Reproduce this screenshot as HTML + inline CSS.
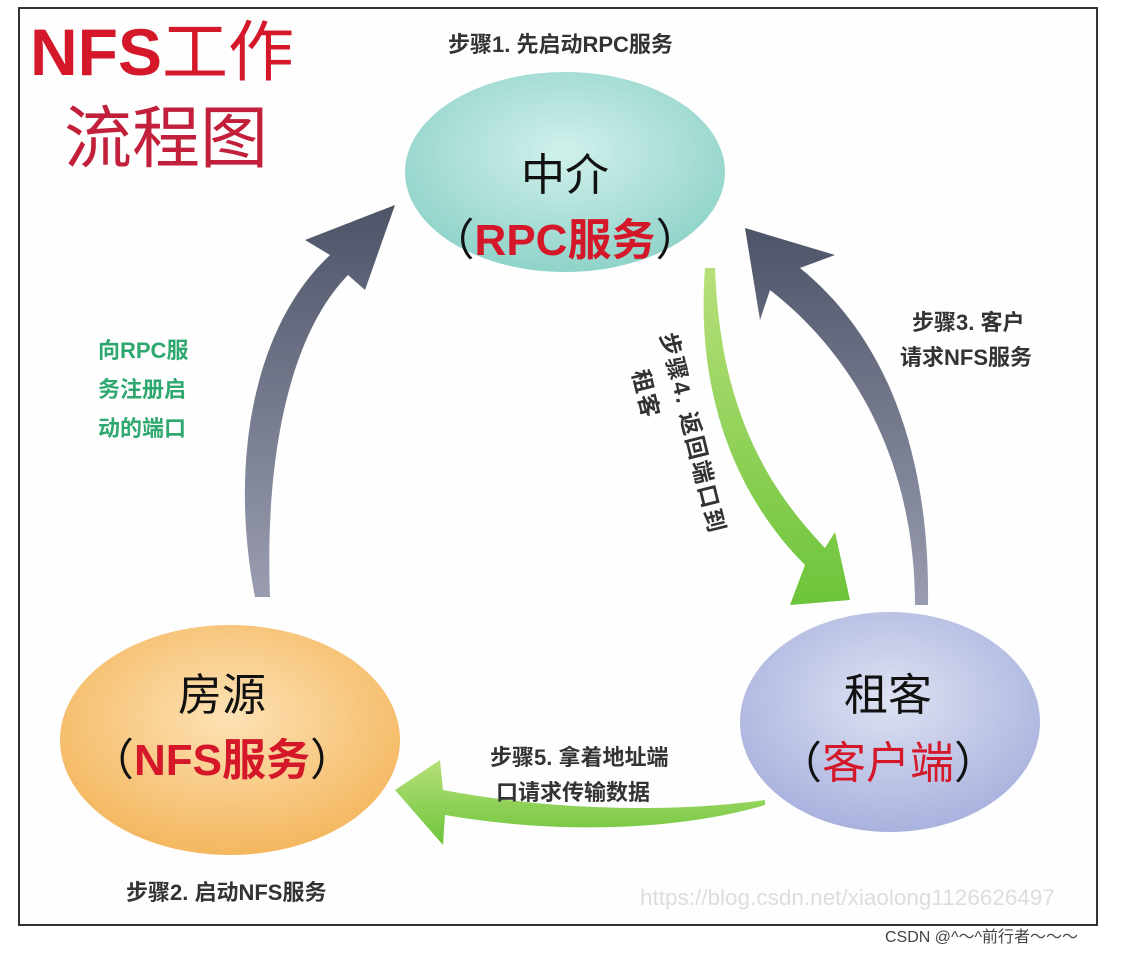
<!DOCTYPE html>
<html><head><meta charset="utf-8"><style>
body{margin:0;background:#fff;width:1132px;height:955px;overflow:hidden;font-family:"Liberation Sans","Noto Sans CJK SC",sans-serif}
svg text{font-family:"Liberation Sans","Noto Sans CJK SC",sans-serif}
</style></head><body>
<svg width="1132" height="955" viewBox="0 0 1132 955" xmlns="http://www.w3.org/2000/svg">
<defs>
<radialGradient id="gt" cx="50%" cy="40%" r="60%"><stop offset="0" stop-color="#d2f0ec"/><stop offset="1" stop-color="#8fd3c9"/></radialGradient>
<radialGradient id="go" cx="50%" cy="40%" r="60%"><stop offset="0" stop-color="#fde2b5"/><stop offset="1" stop-color="#f4b75f"/></radialGradient>
<radialGradient id="gb" cx="50%" cy="40%" r="60%"><stop offset="0" stop-color="#dde2f2"/><stop offset="1" stop-color="#a9b2de"/></radialGradient>
<linearGradient id="gray" x1="0" y1="1" x2="0" y2="0"><stop offset="0" stop-color="#9a9db0"/><stop offset="1" stop-color="#4e5468"/></linearGradient>
<linearGradient id="green" x1="0" y1="0" x2="0" y2="1"><stop offset="0" stop-color="#b8e07a"/><stop offset="1" stop-color="#6cc43a"/></linearGradient>
</defs>
<rect x="19" y="8" width="1078" height="917" fill="#fdfefd" stroke="#333" stroke-width="2"/>
<text x="30" y="75" font-size="66" font-weight="bold" fill="#d4182a">NFS<tspan font-weight="normal">工作</tspan></text>
<text x="64" y="162" font-size="68" fill="#c2203a">流程图</text>
<text x="448" y="52" font-size="22" font-weight="bold" fill="#333">步骤1. 先启动RPC服务</text>
<path d="M255,597 C230,470 250,330 330,255 L305,240 L395,205 L365,290 L348,275 C285,340 265,470 270,597 Z" fill="url(#gray)"/>
<path d="M915,605 C915,470 860,360 770,290 L760,320 L745,228 L835,255 L800,268 C895,345 930,470 928,605 Z" fill="url(#gray)"/>
<path d="M705,268 C695,400 740,500 805,565 L790,605 L850,600 L835,532 L825,548 C760,480 720,400 715,268 Z" fill="url(#green)"/>
<path d="M765,805 C680,830 560,835 445,815 L443,845 L395,790 L440,760 L443,790 C560,812 680,812 765,800 Z" fill="url(#green)"/>
<ellipse cx="565" cy="172" rx="160" ry="100" fill="url(#gt)"/>
<ellipse cx="230" cy="740" rx="170" ry="115" fill="url(#go)"/>
<ellipse cx="890" cy="722" rx="150" ry="110" fill="url(#gb)"/>
<text x="565" y="190" font-size="44" fill="#111" text-anchor="middle">中介</text>
<text x="565" y="255" font-size="44" text-anchor="middle" fill="#111">（<tspan fill="#d4182a" font-weight="bold">RPC服务</tspan>）</text>
<text x="222" y="710" font-size="44" fill="#111" text-anchor="middle">房源</text>
<text x="222" y="775" font-size="44" text-anchor="middle" fill="#111">（<tspan fill="#d4182a" font-weight="bold">NFS服务</tspan>）</text>
<text x="888" y="710" font-size="44" fill="#111" text-anchor="middle">租客</text>
<text x="888" y="778" font-size="44" text-anchor="middle" fill="#111">（<tspan fill="#d4182a">客户端</tspan>）</text>
<g font-size="22" font-weight="bold" fill="#333">
<text x="912" y="330">步骤3. 客户</text><text x="900" y="365">请求NFS服务</text>
<text x="490" y="765">步骤5. 拿着地址端</text><text x="496" y="800">口请求传输数据</text>
<text x="126" y="900">步骤2. 启动NFS服务</text>
</g>
<g font-size="23" font-weight="bold" fill="#333">
<text transform="translate(660,335) rotate(76)" letter-spacing="2">步骤4. 返回端口到</text>
<text transform="translate(632,372) rotate(76)" letter-spacing="2">租客</text>
</g>
<g font-size="22" font-weight="bold" fill="#2fa870">
<text x="98" y="358">向RPC服</text><text x="98" y="397">务注册启</text><text x="98" y="436">动的端口</text></g>
<text x="640" y="905" font-size="22.5" fill="#ddd">https://blog.csdn.net/xiaolong1126626497</text>
<text x="885" y="942" font-size="16" fill="#444">CSDN @^～^前行者～～～</text>
</svg>
</body></html>
